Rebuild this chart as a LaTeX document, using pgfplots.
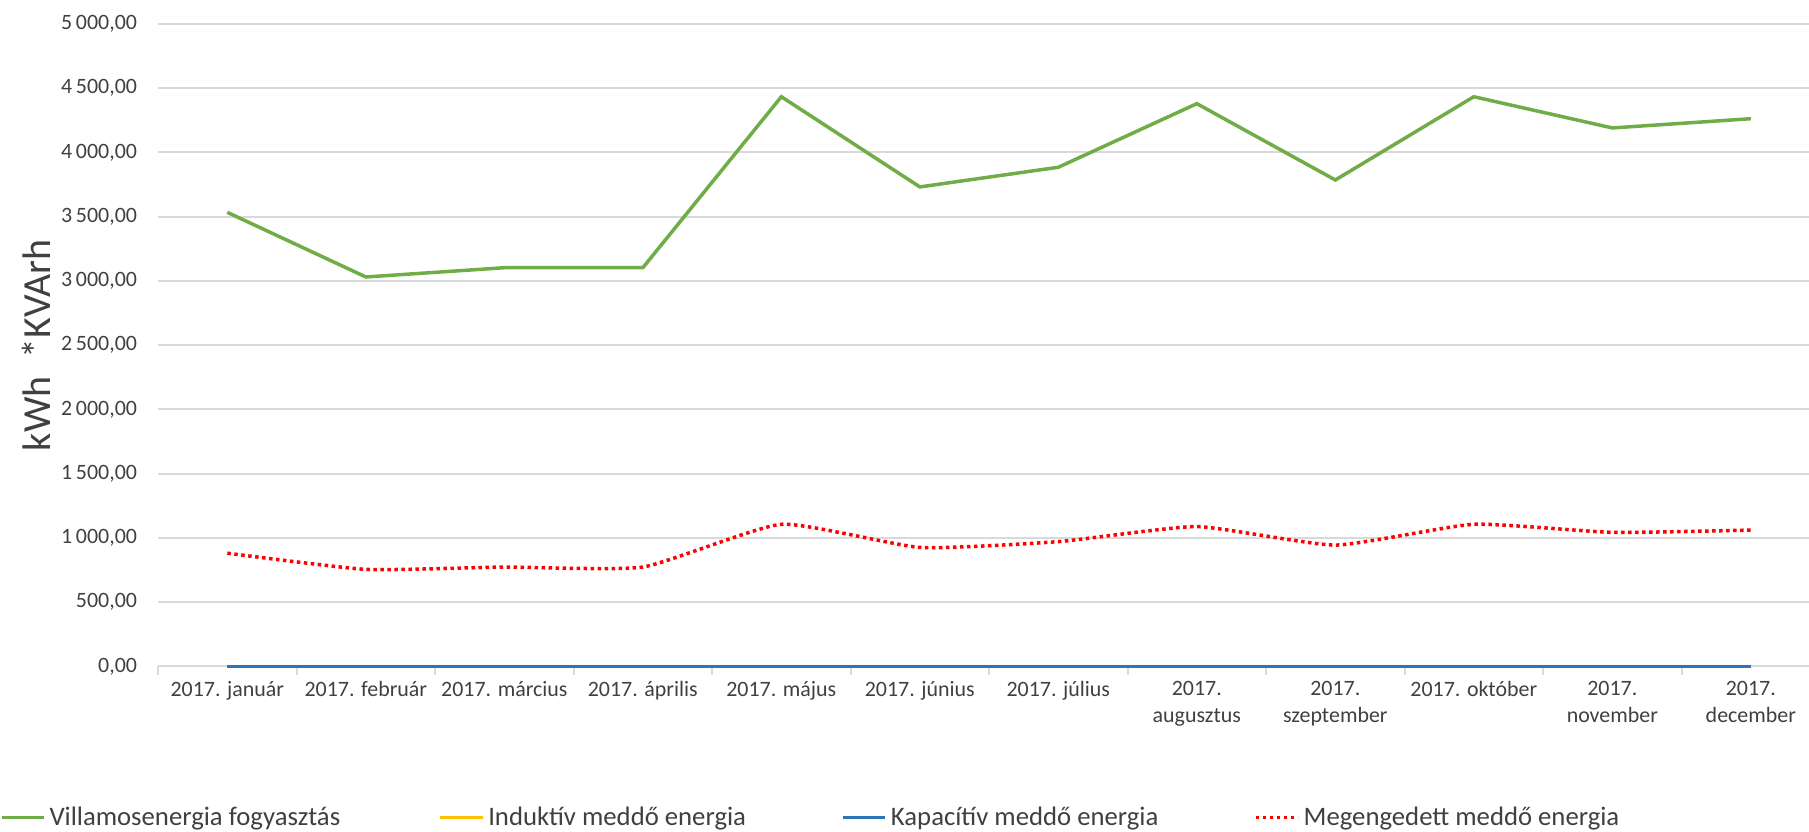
\documentclass[border=0pt]{standalone}
\usepackage{fontspec}
\setmainfont{Carlito}
\usepackage{pgfplots}
\pgfplotsset{compat=1.18}
\definecolor{gridgray}{HTML}{D9D9D9}
\definecolor{txt}{HTML}{404040}
\definecolor{cgreen}{HTML}{70AD47}
\definecolor{cyellow}{HTML}{FFC000}
\definecolor{cblue}{HTML}{2E75B6}
\definecolor{cred}{HTML}{FF0000}
\begin{document}
\begin{tikzpicture}
\begin{axis}[
  at={(0,0)}, anchor=south west,
  scale only axis,
  width=825bp, height=321bp,
  xmin=-0.5, xmax=11.42,
  ymin=0, ymax=5000,
  ytick={0,500,...,5000},
  xtick={0,...,11},
  xticklabels={2017. január,2017. február,2017. március,2017. április,2017. május,2017. június,2017. július,2017.\\augusztus,2017.\\szeptember,2017. október,2017.\\november,2017.\\december},
  minor xtick={-0.5,0.5,...,10.5},
  axis x line=bottom, axis y line=left,
  axis line style={-},
  y axis line style={draw=none},
  x axis line style={draw=gridgray, line width=1bp},
  major x tick style={draw=none},
  minor x tick style={draw=gridgray, line width=1bp},
  ytick style={draw=none},
  tick align=outside,
  minor tick length=4.5bp,
  major tick length=0pt,
  ymajorgrids,
  grid style={draw=gridgray, line width=1bp},
  /pgf/number format/assume math mode=true,
  yticklabel={\pgfmathprintnumber[fixed, fixed zerofill, precision=2, use comma, 1000 sep={\,}]{\tick}},
  tick label style={font=\fontsize{11}{13.5}\selectfont, text=txt},
  x tick label style={align=center, yshift=-4bp},
  y tick label style={xshift=-7bp},
  ylabel={kWh\ \ *KVArh},
  ylabel style={font=\fontsize{20}{24}\selectfont, text=txt, at={(axis description cs:-0.0735,0.5)}, anchor=center, rotate=0},
  legend columns=4,
  legend style={draw=none, fill=none, inner sep=0pt, outer sep=0pt,
    at={(axis description cs:0,0)}, anchor=west, xshift=-79bp, yshift=-75.5bp,
    font=\fontsize{13.4}{15.5}\selectfont, text=txt,
    nodes={inner xsep=0pt, inner ysep=1bp},
    /tikz/every even column/.append style={column sep=0pt}},
  legend image code/.code={\draw[#1] (0bp,0bp) -- (21bp,0bp);},
  clip=false,
]
\addplot[cgreen, line width=1.75bp] coordinates {
(0,3534) (1,3031) (2,3103) (3,3103) (4,4434) (5,3732) (6,3885) (7,4380) (8,3786) (9,4434) (10,4191) (11,4263)};
\addlegendentry{\makebox[196.5bp][l]{\hspace{2bp}Villamosenergia fogyasztás}}
\addplot[cyellow, line width=1.75bp] coordinates {
(0,0) (1,0) (2,0) (3,0) (4,0) (5,0) (6,0) (7,0) (8,0) (9,0) (10,0) (11,0)};
\addlegendentry{\makebox[178.5bp][l]{\hspace{2bp}Induktív meddő energia}}
\addplot[cblue, line width=1.75bp] coordinates {
(0,0) (1,0) (2,0) (3,0) (4,0) (5,0) (6,0) (7,0) (8,0) (9,0) (10,0) (11,0)};
\addlegendentry{\makebox[183.5bp][l]{\hspace{2bp}Kapacítív meddő energia}}
\addplot[cred, line width=1.75bp, dash pattern=on 1.75bp off 1.75bp, smooth, tension=0.3] coordinates {
(0,881) (1,755) (2,773) (3,773) (4,1106) (5,926) (6,971) (7,1088) (8,944) (9,1106) (10,1043) (11,1061)};
\addlegendentry{\makebox[183bp][l]{\hspace{2bp}Megengedett meddő energia}}
\end{axis}
\pgfresetboundingbox
\useasboundingbox (-79bp,-82.5bp) rectangle (825bp,333bp);
\end{tikzpicture}
\end{document}
